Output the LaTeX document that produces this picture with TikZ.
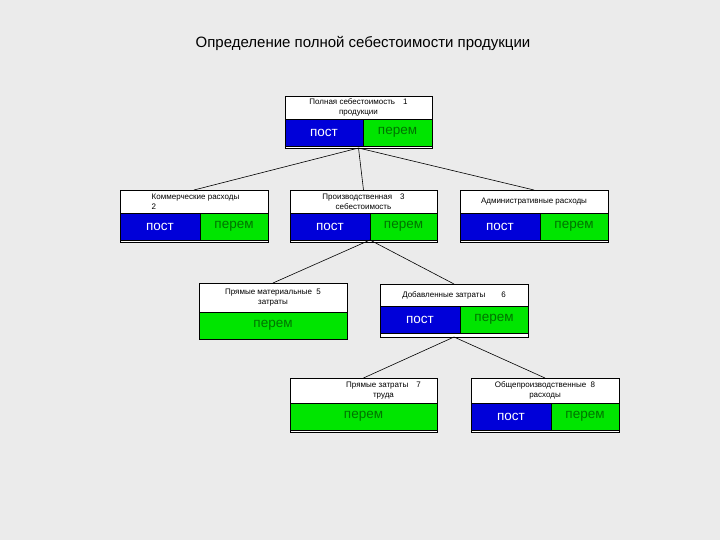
\documentclass[tikz,border=0pt]{standalone}
\usepackage{fontspec}
\setmainfont{Liberation Sans}
\begin{document}
\begin{tikzpicture}[x=1pt,y=-1pt,
  frame/.style={draw=black,fill=white,line width=0.6pt,inner sep=0,outer sep=0,anchor=north west},
  hdr/.style={inner sep=0,outer sep=0,anchor=north west,font=\fontsize{8}{9.5}\selectfont,align=center,text=black},
  pst/.style={draw=black,line width=0.5pt,fill=blue!85!black,text=white,inner sep=0,outer sep=0,anchor=north west,font=\fontsize{13.5}{15}\selectfont},
  prm/.style={draw=black,line width=0.5pt,fill=green!90!black,text=green!45!black,inner sep=0,outer sep=0,anchor=north west,font=\fontsize{13.5}{15}\selectfont},
  conn/.style={draw=black,line width=0.6pt}]
\fill[black!8] (0,0) rectangle (720,540);
\useasboundingbox (0,0) rectangle (720,540);
\node (title) at (363,43) {\fontsize{15}{17}\selectfont Определение полной себестоимости продукции};
% box 1
\node[frame,minimum width=147pt,minimum height=52pt] (b1) at (285,96) {};
\node[hdr,minimum width=147pt,minimum height=23pt] (h1) at (285,96) {Полная себестоимость\quad 1\\продукции};
\node[pst,minimum width=78pt,minimum height=27pt] (p1) at (285,119) {пост};
\node[prm,minimum width=69pt,minimum height=27pt] (m1) at (363,119) {перем};
% box 2
\node[frame,minimum width=148pt,minimum height=52pt] (b2) at (120,190) {};
\node[hdr,minimum width=148pt,minimum height=23pt,align=left] (h2) at (120,190) {\hspace*{3pt}Коммерческие расходы\\\hspace*{3pt}2};
\node[pst,minimum width=80pt,minimum height=27pt] (p2) at (120,213) {пост};
\node[prm,minimum width=68pt,minimum height=27pt] (m2) at (200,213) {перем};
% box 3
\node[frame,minimum width=147pt,minimum height=52pt] (b3) at (290,190) {};
\node[hdr,minimum width=147pt,minimum height=23pt] (h3) at (290,190) {Производственная\quad 3\\себестоимость};
\node[pst,minimum width=80pt,minimum height=27pt] (p3) at (290,213) {пост};
\node[prm,minimum width=67pt,minimum height=27pt] (m3) at (370,213) {перем};
% box 4
\node[frame,minimum width=148pt,minimum height=52pt] (b4) at (460,190) {};
\node[hdr,minimum width=148pt,minimum height=23pt] (h4) at (460,190) {Административные расходы};
\node[pst,minimum width=80pt,minimum height=27pt] (p4) at (460,213) {пост};
\node[prm,minimum width=68pt,minimum height=27pt] (m4) at (540,213) {перем};
% box 5
\node[frame,minimum width=148pt,minimum height=56pt] (b5) at (199,283) {};
\node[hdr,minimum width=148pt,minimum height=29pt] (h5) at (199,283) {Прямые материальные\ \ 5\\затраты};
\node[prm,minimum width=148pt,minimum height=27pt] (m5) at (199,312) {перем};
% box 6
\node[frame,minimum width=148pt,minimum height=53pt] (b6) at (380,284) {};
\node[hdr,minimum width=148pt,minimum height=22pt] (h6) at (380,284) {Добавленные затраты\qquad 6};
\node[pst,minimum width=80pt,minimum height=27pt] (p6) at (380,306) {пост};
\node[prm,minimum width=68pt,minimum height=27pt] (m6) at (460,306) {перем};
% box 7
\node[frame,minimum width=147pt,minimum height=54pt] (b7) at (290,378) {};
\node[hdr,minimum width=147pt,minimum height=25pt] (h7) at (290,378) {\hspace*{40pt}Прямые затраты\quad 7\\\hspace*{40pt}труда};
\node[prm,minimum width=147pt,minimum height=27pt] (m7) at (290,403) {перем};
% box 8
\node[frame,minimum width=148pt,minimum height=54pt] (b8) at (471,378) {};
\node[hdr,minimum width=148pt,minimum height=25pt] (h8) at (471,378) {Общепроизводственные\ \ 8\\расходы};
\node[pst,minimum width=80pt,minimum height=27pt] (p8) at (471,403) {пост};
\node[prm,minimum width=68pt,minimum height=27pt] (m8) at (551,403) {перем};
% connectors
\draw[conn] (b1.south) -- (b2.north);
\draw[conn] (b1.south) -- (b3.north);
\draw[conn] (b1.south) -- (b4.north);
\draw[conn] (p3.south east) -- (b5.north);
\draw[conn] (p3.south east) -- (b6.north);
\draw[conn] (b6.south) -- (b7.north);
\draw[conn] (b6.south) -- (b8.north);
\end{tikzpicture}
\end{document}
